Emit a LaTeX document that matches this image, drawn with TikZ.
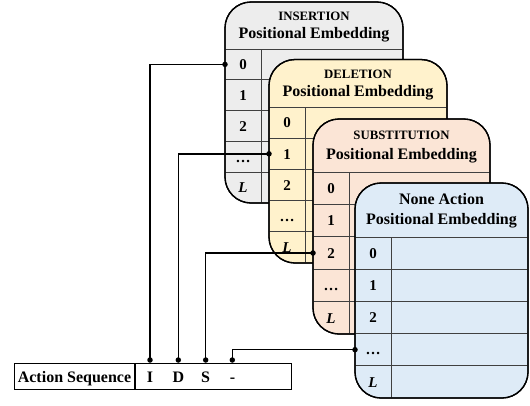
\documentclass[tikz,border=0pt]{standalone}
\usepackage{fontspec}
\setmainfont{Liberation Serif}

\definecolor{insfill}{RGB}{237,237,237}
\definecolor{delfill}{RGB}{255,242,204}
\definecolor{subfill}{RGB}{251,229,214}
\definecolor{nonfill}{RGB}{222,235,247}

\tikzset{
  cardedge/.style={draw=black, line width=1.3pt, rounded corners=26pt},
  gridline/.style={draw=black!75, line width=0.8pt},
  rowlab/.style={font=\fontsize{15}{15}\selectfont\bfseries, anchor=base, inner sep=0pt},
  kindlab/.style={font=\fontsize{12.8}{13}\selectfont\bfseries, anchor=base, inner sep=0pt},
  titlelab/.style={font=\fontsize{16}{16}\selectfont\bfseries, anchor=base, inner sep=0pt},
  conn/.style={draw=black, line width=1.4pt},
  pin/.style={circle, fill=black, inner sep=0pt, minimum size=5.5pt},
  seqbox/.style={draw=black, line width=1.3pt, inner sep=0pt},
}

% One embedding table card:
% #1 name, #2 left, #3 top, #4 width, #5 header height, #6 row height,
% #7 fill colour, #8 first header line, #9 style of that line
\newcommand\embcard[9]{%
  \pgfmathsetmacro\cardR{#2+#4}%
  \pgfmathsetmacro\cardH{#3+#5}%
  \pgfmathsetmacro\cardB{#3+#5+5*#6}%
  \pgfmathsetmacro\cardD{#2+36}%
  \pgfmathsetmacro\cardM{#2+#4/2}%
  \path[cardedge, fill=#7] (#2,#3) rectangle (\cardR,\cardB);
  \draw[gridline] (#2,\cardH) -- (\cardR,\cardH);
  \foreach \rk in {1,...,4} {\draw[gridline] (#2,{\cardH+\rk*#6}) -- (\cardR,{\cardH+\rk*#6});}
  \draw[gridline] (\cardD,\cardH) -- (\cardD,\cardB);
  \path[cardedge] (#2,#3) rectangle (\cardR,\cardB);
  \node[#9] (#1-kind) at (\cardM,{#3+0.39*#5}) {#8};
  \node[titlelab] (#1-title) at (\cardM,{#3+0.77*#5}) {Positional Embedding};
  \foreach \lab [count=\rk from 0] in {0,1,2,{\dots},{\textit{L}}} {
    \node[rowlab] (#1-\rk) at ({#2+18},{\cardH+(\rk+0.5)*#6+5.2}) {\lab};
    \coordinate (#1-in\rk) at (#2,{\cardH+(\rk+0.5)*#6});
  }
}

\begin{document}
\begin{tikzpicture}[x=1pt, y=-1pt]
  \useasboundingbox (0,0) rectangle (530,405);

  % stacked embedding tables
  \embcard{ins}{225}{2}{178}{47}{30.8}{insfill}{INSERTION}{kindlab}
  \embcard{del}{269}{59.5}{178}{47.5}{31.2}{delfill}{DELETION}{kindlab}
  \embcard{sub}{313}{119}{177}{53}{32.4}{subfill}{SUBSTITUTION}{kindlab}
  \embcard{non}{355}{183}{173}{54}{32.2}{nonfill}{None Action}{titlelab}

  % action sequence strip
  \node[seqbox, minimum width=277pt, minimum height=26pt, anchor=north west] (seq) at (14,363) {};
  \draw[line width=1.3pt] (135,363) -- (135,389);
  \node[titlelab] (seqlab) at (74.5,382.5) {Action Sequence};
  \node[titlelab] (aI) at (150,382.5) {I};
  \node[titlelab] (aD) at (178.5,382.5) {D};
  \node[titlelab] (aS) at (205.5,382.5) {S};
  \node[titlelab] (aN) at (232.5,382.5) {-};

  \coordinate (pI) at (150,360);
  \coordinate (pD) at (178.3,360);
  \coordinate (pS) at (205.7,360);
  \coordinate (pN) at (232.3,360);

  % links from each action to its table row
  \draw[conn] (pI) |- (ins-in0);
  \draw[conn] (pD) |- (del-in1);
  \draw[conn] (pS) |- (sub-in2);
  \draw[conn] (pN) |- (non-in3);

  \foreach \p in {pI,pD,pS,pN,ins-in0,del-in1,sub-in2,non-in3}
    \node[pin] (dot-\p) at (\p) {};
\end{tikzpicture}
\end{document}
